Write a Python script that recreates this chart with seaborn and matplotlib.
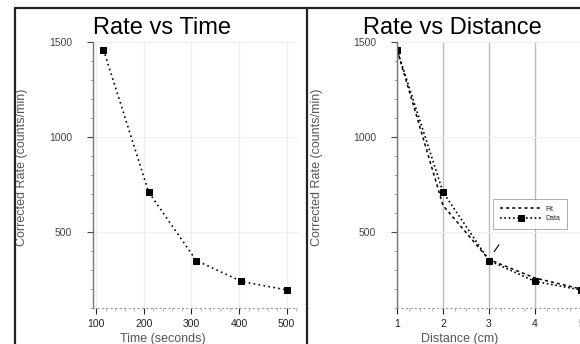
import numpy as np
import pandas as pd
import matplotlib
matplotlib.use("Agg")
import matplotlib.pyplot as plt
import seaborn as sns
from matplotlib.patches import Rectangle
from matplotlib.lines import Line2D
from matplotlib.ticker import MultipleLocator

# data
time_s = [115, 210, 310, 405, 500]
distance_cm = [1, 2, 3, 4, 5]
rate = [1460, 710, 350, 240, 195]
rate_fit = [1460, 640, 355, 258, 200]

sns.set_style("white")
plt.rcParams['font.family'] = ['Liberation Sans', 'DejaVu Sans']

W, H = 580, 344
fig = plt.figure(figsize=(W / 100, H / 100), dpi=100)


def px_axes(left, right, top, bottom):
    return fig.add_axes([left / W, 1 - bottom / H, (right - left) / W, (bottom - top) / H])


def style_axes(ax, xmajor, xminor, vgrid_color):
    ax.set_ylim(100, 1500)
    ax.yaxis.set_major_locator(MultipleLocator(500))
    ax.yaxis.set_minor_locator(MultipleLocator(100))
    ax.xaxis.set_major_locator(MultipleLocator(xmajor))
    ax.xaxis.set_minor_locator(MultipleLocator(xminor))
    for s in ["top", "right"]:
        ax.spines[s].set_visible(False)
    ax.spines["left"].set_color("#777777")
    ax.spines["left"].set_linewidth(1.0)
    ax.spines["bottom"].set_color("#999999")
    ax.spines["bottom"].set_linestyle((0, (1, 3)))
    ax.tick_params(axis="y", which="major", direction="out", length=4, pad=11,
                   labelsize=7.5, colors="#444444", left=True)
    ax.tick_params(axis="y", which="minor", direction="out", length=2.5, color="#999999", left=True)
    ax.tick_params(axis="x", which="major", direction="out", length=4, pad=4,
                   labelsize=7.5, colors="#222222", bottom=True)
    ax.tick_params(axis="x", which="minor", direction="out", length=2, color="#aaaaaa", bottom=True)
    ax.grid(True, axis="y", color="#eeeeee", linewidth=0.8)
    ax.grid(True, axis="x", color=vgrid_color, linewidth=1.0)
    ax.set_axisbelow(True)


# left panel: rate vs time
ax1 = px_axes(93, 308, 42, 308)
sns.lineplot(x=time_s, y=rate, ax=ax1, color="black", marker="s", markersize=5,
             linestyle=(0, (1, 2)), linewidth=1.2, markeredgecolor="black")
ax1.set_xlim(93, 545)
style_axes(ax1, 100, 20, "#eeeeee")
ax1.set_xlabel("Time (seconds)", fontsize=9, color="#555555")
ax1.set_ylabel("Corrected Rate (counts/min)", fontsize=9, color="#555555")
ax1.xaxis.set_label_coords((163 - 93) / 215, -0.095)
ax1.yaxis.set_label_coords((28 - 93) / 215, 0.53)

# right panel: rate vs distance
ax2 = px_axes(397, 604, 42, 308)
sns.lineplot(x=distance_cm, y=rate_fit, ax=ax2, color="black",
             linestyle=(0, (2, 2)), linewidth=1.1, label="Fit")
sns.lineplot(x=distance_cm, y=rate, ax=ax2, color="black", marker="s", markersize=5,
             linestyle=(0, (1, 1.6)), linewidth=1.2, markeredgecolor="black", label="Data")
ax2.set_xlim(1, 5.5)
style_axes(ax2, 1, 0.25, "#bbbbbb")
ax2.set_xlabel("Distance (cm)", fontsize=9, color="#555555")
ax2.set_ylabel("Corrected Rate (counts/min)", fontsize=9, color="#555555")
ax2.xaxis.set_label_coords((460 - 397) / 207, -0.095)
ax2.yaxis.set_label_coords((323 - 397) / 207, 0.53)
leg = ax2.legend(loc="upper left", bbox_to_anchor=((490 - 397) / 207, (308 - 196) / 266),
                 fontsize=5, frameon=True, fancybox=False, borderpad=0.9,
                 handlelength=6, handletextpad=0.6, labelspacing=0.4, edgecolor="#888888")
leg.get_frame().set_linewidth(0.6)
ax2.annotate("", xy=(3.08, 385), xytext=(3.25, 445),
             arrowprops=dict(arrowstyle="-", color="black", lw=0.8))

# titles
fig.text(162 / W, 1 - 28 / H, "Rate vs Time", fontsize=17, ha="center", va="center", color="black")
fig.text(452 / W, 1 - 28 / H, "Rate vs Distance", fontsize=17, ha="center", va="center", color="black")

# clip strip between panels and frames
fig.patches.append(Rectangle((298 / W, 0), 8 / W, 1, transform=fig.transFigure,
                             facecolor="white", edgecolor="none", zorder=5))
for line in [
    Line2D([15 / W, 1], [1 - 8 / H, 1 - 8 / H]),
    Line2D([15 / W, 15 / W], [0, 1 - 8 / H]),
    Line2D([307 / W, 307 / W], [0, 1 - 8 / H]),
]:
    line.set_transform(fig.transFigure)
    line.set_color("#222222")
    line.set_linewidth(1.6)
    line.set_zorder(6)
    fig.lines.append(line)

fig.savefig("out.png", dpi=100)
